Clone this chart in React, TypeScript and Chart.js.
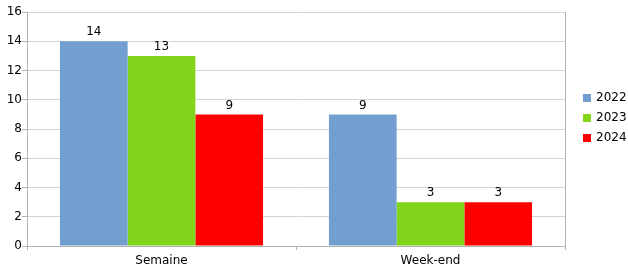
import React, { useEffect, useRef } from "react";
import { Chart, registerables } from "chart.js";

Chart.register(...registerables);

const categories = ["Semaine", "Week-end"];
const seriesNames = ["2022", "2023", "2024"];
const values2022 = [14, 9];
const values2023 = [13, 3];
const values2024 = [9, 3];
const colors = ["#729fcf", "#81d41a", "#ff0000"];
const yTicks = { min: 0, max: 16, step: 2 };

const FONT = "DejaVu Sans";

const labelPlugin = {
  id: "barLabels",
  afterDatasetsDraw(chart: any) {
    const ctx = chart.ctx;
    ctx.save();
    ctx.font = `12px "${FONT}"`;
    ctx.fillStyle = "#000";
    ctx.textAlign = "center";
    ctx.textBaseline = "bottom";
    chart.data.datasets.forEach((ds: any, i: number) => {
      const meta = chart.getDatasetMeta(i);
      meta.data.forEach((bar: any, j: number) => {
        ctx.fillText(String(ds.data[j]), bar.x, bar.y - 3);
      });
    });
    ctx.restore();
  },
};

const framePlugin = {
  id: "frame",
  afterDraw(chart: any) {
    const { ctx, chartArea } = chart;
    ctx.save();
    ctx.strokeStyle = "#b3b3b3";
    ctx.lineWidth = 1;
    ctx.beginPath();
    ctx.moveTo(Math.round(chartArea.right) + 0.5, chartArea.top);
    ctx.lineTo(Math.round(chartArea.right) + 0.5, chartArea.bottom);
    ctx.stroke();
    ctx.restore();
  },
};

const legendPlugin = {
  id: "customLegend",
  afterDraw(chart: any) {
    const ctx = chart.ctx;
    ctx.save();
    ctx.font = `12px "${FONT}"`;
    ctx.textBaseline = "middle";
    ctx.textAlign = "left";
    seriesNames.forEach((name, i) => {
      const y = 98 + i * 20;
      ctx.fillStyle = colors[i];
      ctx.fillRect(583, y - 4, 8, 8);
      ctx.fillStyle = "#000";
      ctx.fillText(name, 596, y);
    });
    ctx.restore();
  },
};

export default function App() {
  const ref = useRef<HTMLCanvasElement>(null);
  useEffect(() => {
    document.body.style.margin = "0";
    const chart = new Chart(ref.current!, {
      type: "bar",
      data: {
        labels: categories,
        datasets: [values2022, values2023, values2024].map((d, i) => ({
          label: seriesNames[i],
          data: d,
          backgroundColor: colors[i],
          borderWidth: 0,
          categoryPercentage: 0.755,
          barPercentage: 1,
        })),
      },
      options: {
        animation: false,
        responsive: false,
        maintainAspectRatio: false,
        layout: { padding: { top: 12, right: 63, left: 0, bottom: 0 } },
        plugins: { legend: { display: false }, tooltip: { enabled: false } },
        scales: {
          x: {
            afterFit: (s: any) => {
              s.height = 26;
            },
            grid: {
              display: true,
              drawOnChartArea: false,
              drawTicks: true,
              tickLength: 4,
              color: "#b3b3b3",
              offset: true,
            },
            border: { color: "#b3b3b3" },
            ticks: { color: "#000", font: { family: FONT, size: 12 }, padding: 4 },
          },
          y: {
            min: yTicks.min,
            max: yTicks.max,
            afterFit: (s: any) => {
              s.width = 27;
            },
            ticks: {
              stepSize: yTicks.step,
              color: "#000",
              font: { family: FONT, size: 12 },
              padding: 0,
            },
            grid: { color: "#d4d4d4", tickColor: "#b3b3b3", tickLength: 5 },
            border: { color: "#b3b3b3" },
          },
        },
      },
      plugins: [labelPlugin, framePlugin, legendPlugin],
    });
    return () => chart.destroy();
  }, []);
  return (
    <div style={{ width: 628, height: 272 }}>
      <canvas ref={ref} width={628} height={272} />
    </div>
  );
}
